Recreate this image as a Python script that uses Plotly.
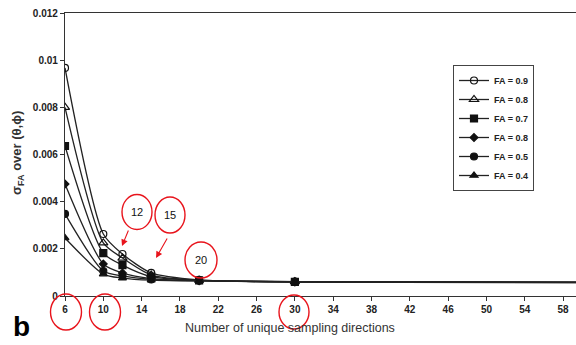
import plotly.graph_objects as go

# ---- data ----
directions = [6, 10, 12, 15, 20, 30, 64]
fa_09 = [0.00967, 0.00263, 0.00178, 0.00098, 0.00068, 0.00060, 0.00058]
fa_08 = [0.00800, 0.00225, 0.00161, 0.00089, 0.00067, 0.00061, 0.00057]
fa_07 = [0.00636, 0.00182, 0.00131, 0.00082, 0.00066, 0.00060, 0.00058]
fa_06 = [0.00475, 0.00136, 0.00098, 0.00074, 0.00065, 0.00059, 0.00056]
fa_05 = [0.00348, 0.00106, 0.00085, 0.00070, 0.00065, 0.00061, 0.00057]
fa_04 = [0.00246, 0.00093, 0.00076, 0.00067, 0.00064, 0.00060, 0.00056]
series_names = ["FA = 0.9", "FA = 0.8", "FA = 0.7", "FA = 0.8", "FA = 0.5", "FA = 0.4"]
x_ticks = list(range(6, 60, 4))
y_ticks = [0, 0.002, 0.004, 0.006, 0.008, 0.01, 0.012]
y_tick_labels = ["0", "0.002", "0.004", "0.006", "0.008", "0.01", "0.012"]

series = [fa_09, fa_08, fa_07, fa_06, fa_05, fa_04]
symbols = ["circle-open", "triangle-up-open", "square", "diamond", "circle", "triangle-up"]
sizes = [7, 8, 7, 6, 7, 7]

W, H = 576, 345
L, R, T, B = 65, 0, 13, 49
pw, ph = W - L - R, H - T - B

def px(x):
    return (x - L) / pw

def py(y):
    return (H - B - y) / ph

fig = go.Figure()
for name, vals, sym, sz in zip(series_names, series, symbols, sizes):
    fig.add_trace(go.Scatter(
        x=directions, y=vals, name=name, mode="lines+markers",
        line=dict(color="#222222", width=1.3, shape="spline", smoothing=0.7),
        marker=dict(symbol=sym, size=sz, color="#111111",
                    line=dict(color="#111111", width=1.2)),
    ))

font_family = "Liberation Sans, Arial, sans-serif"

shapes = []
# red circles: (cx, cy, rx, ry) in pixels
circles = [(137, 212, 15, 17.5), (170, 215, 15, 18), (201, 260, 16, 18),
           (66, 312, 15.5, 18), (105, 312, 15.5, 18), (294, 312, 15, 17)]
for cx, cy, rx, ry in circles:
    shapes.append(dict(type="circle", xref="paper", yref="paper",
                       x0=px(cx - rx), x1=px(cx + rx), y0=py(cy + ry), y1=py(cy - ry),
                       line=dict(color="#e8141c", width=1.4)))

annotations = []
for txt, cx, cy in [("12", 137, 212), ("15", 170, 215), ("20", 201, 260)]:
    annotations.append(dict(text=txt, xref="paper", yref="paper", x=px(cx), y=py(cy),
                            xanchor="center", yanchor="middle",
                            showarrow=False, font=dict(family=font_family, size=11, color="#111")))
# arrows: from (x0,y0) to (x1,y1) pixels
for x0, y0, x1, y1 in [(129, 229, 122, 246), (168, 237, 156, 258)]:
    annotations.append(dict(text="", xref="paper", yref="paper", x=px(x1), y=py(y1),
                            axref="pixel", ayref="pixel", ax=x0 - x1, ay=y0 - y1,
                            showarrow=True, arrowhead=2, arrowsize=1.2, arrowwidth=1.1,
                            arrowcolor="#e8141c"))
annotations.append(dict(text="Number of unique sampling directions", xref="paper", yref="paper",
                        x=px(290), y=py(328), xanchor="center", yanchor="middle", showarrow=False,
                        font=dict(family=font_family, size=12.5, color="#333")))
annotations.append(dict(text="<b>σ<sub>FA</sub> over (θ,ϕ)</b>", xref="paper", yref="paper",
                        x=px(17), y=py(153), xanchor="center", yanchor="middle",
                        showarrow=False, textangle=-90,
                        font=dict(family=font_family, size=13, color="#333")))
annotations.append(dict(text="<b>b</b>", xref="paper", yref="paper",
                        x=px(21), y=py(327), xanchor="center", yanchor="middle", showarrow=False,
                        font=dict(family=font_family, size=28, color="#000")))

fig.update_layout(
    width=W, height=H,
    margin=dict(l=L, r=R, t=T, b=B),
    paper_bgcolor="white", plot_bgcolor="white",
    font=dict(family=font_family, color="#222"),
    showlegend=True,
    legend=dict(x=px(453), y=py(65), xanchor="left", yanchor="top",
                bordercolor="#444", borderwidth=1, bgcolor="white",
                font=dict(family=font_family, size=9, color="#222", weight="bold"),
                tracegroupgap=0, itemwidth=30),
    xaxis=dict(range=[6, 59.35], tickvals=x_ticks, ticks="outside", ticklen=4,
               tickcolor="#333", showline=True, linecolor="#333", linewidth=1.2,
               mirror=True, showgrid=False, zeroline=False,
               tickfont=dict(family=font_family, size=10, color="#222", weight="bold")),
    yaxis=dict(range=[0, 0.012], tickvals=y_ticks, ticktext=y_tick_labels,
               ticks="outside", ticklen=4, tickcolor="#333",
               showline=True, linecolor="#333", linewidth=1.2, showgrid=False,
               zeroline=False,
               tickfont=dict(family=font_family, size=10, color="#222", weight="bold")),
    shapes=shapes, annotations=annotations,
)

fig.write_html("out.html", config={"displayModeBar": False},
               post_script="document.body.style.margin='0';")
